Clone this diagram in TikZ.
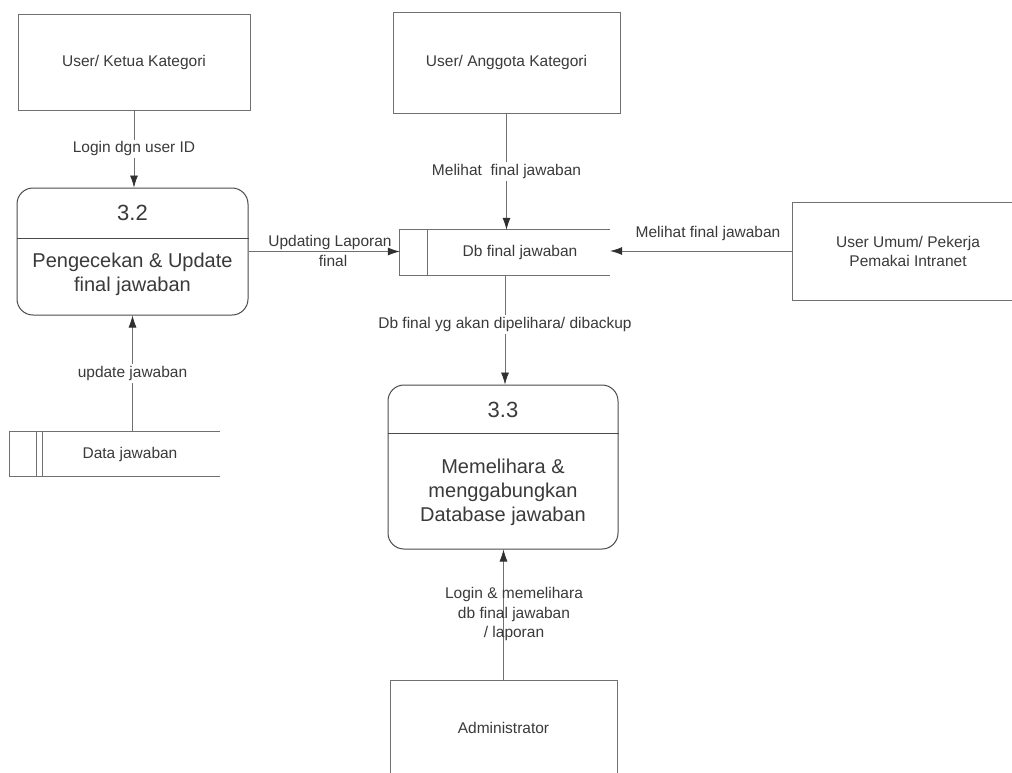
\documentclass[tikz,border=0pt]{standalone}
\usepackage{fontspec}
\setmainfont{Liberation Sans}
\usetikzlibrary{arrows.meta,calc}
\definecolor{ink}{HTML}{3A3A3A}
\definecolor{edge}{HTML}{707070}
\definecolor{pedge}{HTML}{4A4A4A}
\definecolor{tip}{HTML}{303030}
\tikzset{
  entity/.style={draw=edge, line width=0.7pt, inner sep=0pt, text=ink,
    font=\fontsize{15.5}{19}\selectfont, align=center},
  process/.style={draw=pedge, line width=1pt, rounded corners=16pt, inner sep=0pt},
  storebox/.style={inner sep=0pt},
  storeline/.style={draw=edge, line width=0.8pt},
  divider/.style={draw=pedge, line width=1pt},
  flow/.style={draw=edge, line width=0.7pt, -{Latex[length=12pt,width=8pt,color=tip]}},
  flowlabel/.style={font=\fontsize{15.5}{19.5}\selectfont, text=ink, align=center, inner sep=2pt},
  ptitle/.style={font=\fontsize{22}{26}\selectfont, text=ink, inner sep=0pt},
  ptext/.style={font=\fontsize{20}{24}\selectfont, text=ink, align=center, inner sep=0pt},
  stext/.style={font=\fontsize{15.5}{19}\selectfont, text=ink, inner sep=0pt},
}
\begin{document}
\begin{tikzpicture}[x=1pt, y=-1pt]
\useasboundingbox[fill=white] (0,0) rectangle (1012,772);
\clip (0,0) rectangle (1012,772);

% external entities
\node[entity, minimum width=232pt, minimum height=96pt] (ketua) at (134,62) {User/ Ketua Kategori};
\node[entity, minimum width=227pt, minimum height=101pt] (anggota) at (506.5,62.5) {User/ Anggota Kategori};
\node[entity, minimum width=232pt, minimum height=98pt] (umum) at (908,251) {User Umum/ Pekerja\\Pemakai Intranet};
\node[entity, minimum width=227pt, minimum height=95pt] (admin) at (503.5,727.5) {Administrator};

% process 3.2
\node[process, minimum width=231pt, minimum height=127pt] (p32) at (132.5,251.5) {};
\draw[divider] (p32.west |- 0,238) -- (p32.east |- 0,238);
\node[ptitle] (p32n) at (132.5,213) {3.2};
\node[ptext] (p32t) at (132.5,274) {Pengecekan \& Update\\final jawaban};

% process 3.3
\node[process, minimum width=230pt, minimum height=164pt] (p33) at (503,467) {};
\draw[divider] (p33.west |- 0,433) -- (p33.east |- 0,433);
\node[ptitle] (p33n) at (503,410) {3.3};
\node[ptext] (p33t) at (503,492) {Memelihara \&\\menggabungkan\\Database jawaban};

% data store: Db final jawaban
\node[storebox, minimum width=210pt, minimum height=45pt] (dbf) at (505,252.5) {};
\draw[storeline] (dbf.north east) -- (dbf.north west) -- (dbf.south west) -- (dbf.south east);
\draw[storeline] (dbf.north west) ++(28,0) -- ++(0,45);
\node[stext] (dbft) at (520,252.5) {Db final jawaban};

% data store: Data jawaban
\node[storebox, minimum width=210pt, minimum height=44pt] (dj) at (115,454) {};
\draw[storeline] (dj.north east) -- (dj.north west) -- (dj.south west) -- (dj.south east);
\draw[storeline] (dj.north west) ++(27,0) -- ++(0,44);
\draw[storeline] (dj.north west) ++(33,0) -- ++(0,44);
\node[stext] (djt) at (130,454) {Data jawaban};

% data flows
\draw[flow] (ketua.south) -- (ketua.south |- p32.north)
  node[flowlabel, fill=white, pos=0.5] {Login dgn user ID};
\draw[flow] (anggota.south) -- (anggota.south |- dbf.north)
  node[flowlabel, fill=white, pos=0.5] {Melihat\ \ final jawaban};
\draw[flow] (p32.east) -- (p32.east -| dbf.west);
\node[flowlabel] (l1) at (330,251) {Updating Laporan\\\hspace*{6pt}final};
\draw[flow] (umum.west) -- (umum.west -| dbf.east);
\node[flowlabel] (l2) at (708,233) {Melihat final jawaban};
\draw[flow] (dbf.south) -- (dbf.south |- p33.north)
  node[flowlabel, fill=white, pos=0.45] {Db final yg akan dipelihara/ dibackup};
\draw[flow] (p32.south |- dj.north) -- (p32.south)
  node[flowlabel, fill=white, pos=0.5] {update jawaban};
\draw[flow] (admin.north) -- (admin.north |- p33.south);
\node[flowlabel] (l3) at (514,614) {Login \& memelihara\\db final jawaban\\/ laporan};
\end{tikzpicture}
\end{document}
